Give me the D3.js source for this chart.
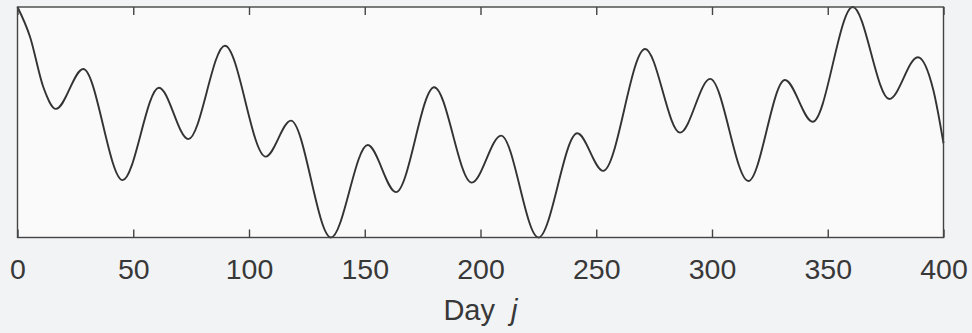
<!DOCTYPE html>
<html>
<head>
<meta charset="utf-8">
<script src="https://cdn.jsdelivr.net/npm/d3@7"></script>
<style>
    body { margin: 0; background: #f2f3f5; }
    svg { display: block; }
    text { font-family: "Liberation Sans", Arial, sans-serif; fill: #383838; }
</style>
</head>
<body>
<svg id="chart" width="972" height="333"></svg>
<script>
// day index of each turning point of the curve (plus a few points on the slopes)
var days = [0, 5.4, 11.1, 16.6, 28.4, 45.4, 61.1, 73.8, 89.6, 107.2, 118.1, 135.4,
    151.3, 163.5, 180.0, 196.2, 208.9, 225.0, 241.8, 253.0, 271.1, 286.2,
    299.2, 315.7, 331.5, 343.5, 360.8, 376.6, 388.9, 395.6, 400];

// relative value at those days (0 = bottom of the box, 1 = top)
var values = [1.000, 0.871, 0.654, 0.558, 0.731, 0.249, 0.650, 0.427, 0.832, 0.351, 0.507, 0.000,
    0.401, 0.197, 0.652, 0.238, 0.442, 0.000, 0.452, 0.289, 0.818, 0.455,
    0.688, 0.245, 0.683, 0.502, 1.000, 0.601, 0.782, 0.640, 0.409];

var xTicks = [0, 50, 100, 150, 200, 250, 300, 350, 400];

d3.select(window).on('load', init);

function init() {
    var svg = d3.select('#chart');

    var left = 17.5, right = 943.5, top = 7, bottom = 237.5;

    var xScale = d3.scaleLinear()
        .domain([0, 400])
        .range([left, right]);

    var yScale = d3.scaleLinear()
        .domain([0, 1])
        .range([bottom, top]);

    // plot box
    svg.append('rect')
        .attr('x', left)
        .attr('y', top)
        .attr('width', right - left)
        .attr('height', bottom - top)
        .style('fill', '#fafafb')
        .style('stroke', 'none');

    var data = days.map(function(d, i){ return [d, values[i]]; });

    var line = d3.line()
        .x(function(d){ return xScale(d[0]); })
        .y(function(d){ return yScale(d[1]); })
        .curve(d3.curveMonotoneX);

    svg.append('path')
        .datum(data)
        .attr('d', line)
        .style('fill', 'none')
        .style('stroke', '#333')
        .style('stroke-width', 1.9);

    // bottom axis, ticks pointing inward
    var xAxis = d3.axisBottom(xScale)
        .tickValues(xTicks)
        .tickSizeInner(-8)
        .tickSizeOuter(0)
        .tickPadding(21);

    var gx = svg.append('g')
        .attr('transform', 'translate(0,' + bottom + ')')
        .call(xAxis);

    gx.selectAll('text')
        .style('font-size', '28.5px')
        .style('font-family', '"Liberation Sans", Arial, sans-serif')
        .attr('fill', '#383838');

    // top axis, ticks only
    var topAxis = d3.axisTop(xScale)
        .tickValues(xTicks)
        .tickSizeInner(-8)
        .tickSizeOuter(0)
        .tickFormat('');

    svg.append('g')
        .attr('transform', 'translate(0,' + top + ')')
        .call(topAxis);

    svg.selectAll('.domain').remove();
    svg.selectAll('.tick line')
        .attr('stroke', '#444')
        .attr('stroke-width', 1.4);

    // box outline
    svg.append('rect')
        .attr('x', left)
        .attr('y', top)
        .attr('width', right - left)
        .attr('height', bottom - top)
        .style('fill', 'none')
        .style('stroke', '#444')
        .style('stroke-width', 1.4);

    var label = svg.append('text')
        .attr('x', (left + right) / 2)
        .attr('y', 320)
        .attr('text-anchor', 'middle')
        .style('font-size', '29px');
    label.append('tspan').text('Day\u00a0\u00a0');
    label.append('tspan').style('font-style', 'italic').text('j');
}
</script>
</body>
</html>
